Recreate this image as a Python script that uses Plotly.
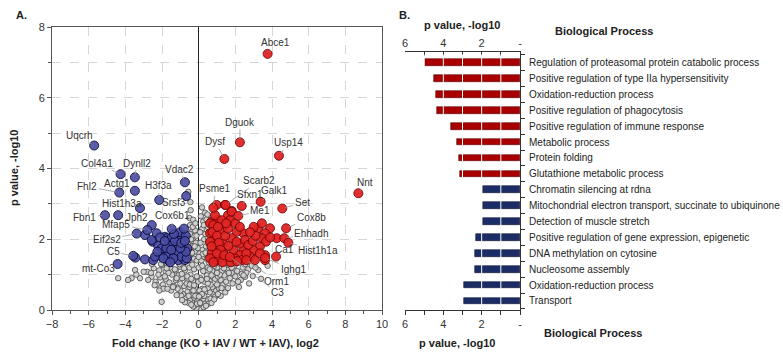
import plotly.graph_objects as go

W, H = 783, 354
FONT = "Liberation Sans, Arial, sans-serif"

# ---------------- Panel A data (volcano) ----------------
grey_x = [0.00, 0.05, -0.05, 0.12, -0.12, 0.20, -0.20, 0.28, -0.30, 0.35, -0.35, 0.10, -0.10, 0.45, -0.45,
          0.55, -0.55, 0.25, -0.25, 0.65, -0.70, 0.40, -0.40, 0.15, -0.15, 0.80, -0.85, 0.95, -1.00, 0.60,
          -0.60, 0.35, -0.35, 1.10, -1.15, 0.75, -0.80, 0.50, -0.50, 0.20, -0.20, 1.30, -1.35, 1.00, -1.00,
          0.05, -1.50, 1.45, 0.90, -0.95, 1.50, -1.60, 1.70, -1.80, 1.20, -1.25, 0.90, -0.90, 0.60, -0.60,
          0.30, -0.30, 2.00, -2.10, 1.85, -1.95, 1.40, -1.45, 0.10, -0.10, 2.30, -2.35, 1.05, -1.10, 0.45,
          -0.45, 2.53, -2.57, -2.29, -1.93, -2.02, 2.20, 2.70, -2.80, 2.40, -2.45, 2.10, -2.15, 1.80, -1.80,
          1.55, -1.55, 1.25, -1.25, 1.00, -1.00, 0.75, -0.75, 0.50, -0.50, 0.25, -0.25, 2.90, -3.00, 1.95,
          -2.00, 1.65, -1.70, 0.00, -3.47, -3.66, -4.39, -3.20, -2.75, 3.40, 3.76, 3.25, 2.95, 3.10,
          -0.57, -0.44, -0.47, -0.38, -0.30, -0.55, -0.40, -0.25, -0.10, -0.50, -0.35, -0.20, -0.55, -0.15,
          -0.50, -0.30, -0.20, -0.45, 0.15, 0.30, 0.45, 0.20, 0.40, 0.55, 0.10, 0.30, 0.50, 0.20, 0.36,
          0.25, 0.43, 0.50, 0.35, 0.05, -0.05, 0.70, -0.75, 0.85, -0.90, 1.20, -1.20, 1.60, -1.70, 0.30,
          -0.30, 0.65, -0.65, 1.15, -1.20, 1.65, -1.65, 2.60, -2.60, 0.85, -0.85, 0.20, -0.35,
          -0.08, 0.08, -0.18, 0.18, -0.28, 0.32, -0.48, 0.50, -0.62, 0.70, -0.92, 1.00, -1.30, 1.38,
          -1.75, 1.80, -2.20, 2.35, -0.02, 0.15, -0.40, 0.60, -0.80, 1.05, -1.40, 1.25, -0.55, 0.45,
          -0.25, 0.02, -2.40, -2.15, -1.85, -3.40, -3.85, 2.15, 2.45, 2.75,
          -0.52, -0.36, -0.22, -0.58, -0.42, -0.12, 0.08, 0.22, 0.38, 0.52, 0.12, 0.28, 0.48, -0.32,
          -0.48, 0.58, 0.55, -0.60, 0.00, -0.18, 0.18, -1.05, 1.12, -1.55, 1.62, -2.05, 2.05, -2.55, 2.55]
grey_y = [0.02, 0.10, 0.12, 0.05, 0.06, 0.15, 0.14, 0.08, 0.10, 0.22, 0.25, 0.25, 0.28, 0.30, 0.30,
          0.18, 0.20, 0.32, 0.35, 0.32, 0.35, 0.12, 0.15, 0.40, 0.42, 0.45, 0.45, 0.55, 0.55, 0.50,
          0.52, 0.50, 0.55, 0.62, 0.60, 0.65, 0.68, 0.62, 0.65, 0.60, 0.62, 0.70, 0.68, 0.72, 0.75,
          0.55, 0.55, 0.50, 0.38, 0.40, 0.80, 0.78, 0.90, 0.88, 0.85, 0.85, 0.88, 0.90, 0.82, 0.85,
          0.80, 0.82, 0.95, 0.92, 0.75, 0.72, 0.98, 1.00, 0.90, 0.95, 0.85, 0.80, 0.95, 0.98, 0.98,
          1.00, 0.94, 0.94, 0.71, 0.60, 0.23, 0.65, 1.15, 1.08, 1.20, 1.18, 1.10, 1.12, 1.05, 1.08,
          1.15, 1.20, 1.10, 1.12, 1.20, 1.22, 1.10, 1.12, 1.20, 1.20, 1.10, 1.15, 1.25, 1.08, 1.25,
          1.27, 1.28, 1.28, 1.20, 1.13, 0.90, 0.90, 0.90, 0.85, 0.88, 1.25, 1.13, 0.96, 1.20,
          3.34, 2.82, 2.40, 2.21, 1.95, 1.40, 1.50, 1.45, 1.40, 1.70, 1.80, 1.65, 2.05, 1.90,
          2.60, 2.55, 2.25, 3.05, 1.40, 1.50, 1.45, 1.70, 1.80, 1.65, 1.90, 2.00, 2.05, 2.30, 2.15,
          2.50, 2.56, 2.35, 2.75, 1.60, 1.75, 0.20, 0.22, 0.30, 0.28, 0.40, 0.42, 0.62, 0.60, 0.40,
          0.42, 0.72, 0.75, 1.00, 0.90, 1.05, 1.05, 1.05, 1.05, 1.25, 1.25, 1.25, 1.28,
          0.18, 0.20, 0.40, 0.45, 0.55, 0.58, 0.72, 0.75, 0.95, 0.98, 1.02, 1.05, 1.15, 1.18,
          1.18, 1.20, 1.00, 1.02, 0.80, 0.85, 0.88, 1.15, 1.18, 0.45, 0.65, 0.62, 0.40, 0.88,
          0.70, 0.38, 0.70, 0.55, 0.95, 1.00, 0.85, 0.80, 0.98, 0.75,
          1.55, 1.62, 1.80, 1.85, 2.00, 2.10, 2.20, 1.58, 1.62, 1.88, 2.65, 2.40, 2.70, 2.35,
          2.15, 2.20, 1.35, 1.60, 1.50, 2.45, 2.90, 1.30, 1.32, 1.30, 1.32, 1.30, 1.32, 1.30, 1.30]

# down-regulated (blue)
down_x = [-4.39, -3.45, -2.93, -2.48, -2.51, -2.93, -2.56, -2.29, -1.84, -1.75, -2.20, -1.60, -1.02,
          -0.84, -1.20, -1.84, -1.38, -0.84, -2.02, -1.66, -1.11, -0.75, -2.38, -1.20, -1.57, -2.02,
          -1.11, -1.66, -0.93, -0.65, -1.38, -1.93, -0.93, -0.62, -1.47, -1.00, -0.70, -1.30, -0.70,
          -1.75, -1.50, -1.00, -0.80, -2.10, -1.35, -1.85, -0.95, -1.55, -2.25, -0.75]
down_y = [2.68, 1.48, 1.43, 1.41, 1.93, 2.12, 1.98, 2.17, 2.07, 2.03, 1.81, 1.87, 2.03,
          1.88, 1.79, 1.69, 1.60, 1.55, 1.51, 1.41, 1.41, 1.41, 1.51, 2.00, 1.81, 1.74,
          1.65, 1.55, 1.51, 1.46, 1.46, 1.46, 2.07, 1.74, 2.05, 2.20, 2.10, 1.95, 1.65,
          1.75, 1.70, 1.75, 2.30, 2.05, 2.15, 1.95, 1.90, 1.35, 1.65, 1.95]
down_genes = ["Uqcrh", "Col4a1", "Dynll2", "Fhl2", "Actg1", "Vdac2", "H3f3a", "Srsf3", "Hist1h3a",
              "Fbn1", "Jph2", "Cox6b1", "Mfap5", "Eif2s2", "C5", "mt-Co3"]
down_gene_x = [-5.70, -4.26, -3.48, -4.33, -3.48, -0.75, -2.15, -0.68, -3.20,
               -5.11, -2.56, -1.47, -2.80, -3.38, -3.57, -4.42]
down_gene_y = [4.65, 3.84, 3.75, 3.32, 3.37, 3.61, 3.11, 3.22, 2.88,
               2.68, 2.40, 2.29, 2.26, 2.16, 1.53, 1.30]

# up-regulated (red)
up_x = [0.98, 0.71, 1.07, 1.60, 1.43, 1.80, 0.62, 3.25, 3.89, 3.62, 3.44, 4.26, 3.67, 3.34, 2.98,
        3.62, 3.62, 2.43, 2.25, 2.43, 2.07, 1.80, 1.34, 1.89, 2.25, 2.80, 3.07, 1.53, 0.98, 0.71,
        0.89, 0.89, 1.25, 0.80, 1.25, 1.71, 1.80, 0.89, 0.62, 0.62, 1.34, 1.62, 2.07, 2.53, 2.71,
        1.98, 1.16, 0.62, 2.35, 3.34, 0.75, 1.00, 1.10, 1.20, 1.45, 1.60, 1.00, 0.80, 1.30, 1.75,
        2.10, 1.50, 2.00, 2.25, 0.70, 1.05, 1.40, 2.60, 2.95, 3.10, 3.00, 2.80, 3.90, 3.45]
up_y = [2.97, 2.50, 2.54, 2.68, 2.97, 2.80, 2.45, 2.31, 2.31, 2.17, 2.03, 2.03, 1.93, 1.79, 1.69,
        1.55, 1.41, 1.69, 1.88, 2.17, 2.21, 2.03, 1.88, 1.69, 1.55, 1.51, 1.41, 1.46, 1.41, 1.60,
        1.79, 2.03, 2.26, 2.40, 2.54, 2.54, 2.78, 2.68, 2.17, 1.93, 1.65, 1.81, 1.93, 1.98, 1.84,
        1.46, 1.46, 1.46, 1.41, 1.60, 2.20, 2.10, 1.90, 1.70, 2.10, 2.30, 1.60, 1.35, 1.35, 1.35,
        1.38, 2.45, 2.45, 2.35, 1.80, 2.35, 1.55, 1.60, 1.95, 2.10, 2.35, 2.20, 2.05, 2.45]
up_genes = ["Abce1", "Dguok", "Dysf", "Usp14", "Nnt", "Set", "Galk1", "Me1", "Sfxn1", "Scarb2",
            "Psme1", "Cox8b", "Ehhadh", "Hist1h1a", "Ca1", "Ighg1", "Orm1", "C3"]
up_gene_x = [3.76, 2.25, 1.40, 4.38, 8.71, 4.56, 3.38, 2.16, 2.35, 1.47,
             0.80, 4.77, 4.67, 4.89, 4.22, 3.62, 2.60, 1.70]
up_gene_y = [7.24, 4.74, 4.27, 4.36, 3.30, 2.87, 3.06, 2.66, 2.94, 2.97,
             2.89, 2.31, 2.03, 1.90, 1.51, 1.47, 1.41, 1.50]

# ---------------- Panel B data (GO terms) ----------------
go_terms_up = ["Regulation of proteasomal protein catabolic process",
               "Positive regulation of type IIa hypersensitivity",
               "Oxidation-reduction process",
               "Positive regulation of phagocytosis",
               "Positive regulation of immune response",
               "Metabolic process",
               "Protein folding",
               "Glutathione metabolic process"]
go_values_up = [4.98, 4.50, 4.37, 4.32, 3.60, 3.30, 3.20, 3.12]
go_terms_down = ["Chromatin silencing at rdna",
                 "Mitochondrial electron transport, succinate to ubiquinone",
                 "Detection of muscle stretch",
                 "Positive regulation of gene expression, epigenetic",
                 "DNA methylation on cytosine",
                 "Nucleosome assembly",
                 "Oxidation-reduction process",
                 "Transport"]
go_values_down = [1.91, 1.91, 1.91, 2.27, 2.33, 2.36, 2.93, 2.93]
pval_ticks = [6, 4, 2, 0]
pval_ticktext = ["6", "4", "2", "-"]

# ---------------- label offsets (pixels, style only) ----------------
label_offsets = {
    "Abce1": (8, -11), "Dguok": (0, -20), "Dysf": (-9, -17), "Usp14": (10, -13), "Nnt": (7, -11),
    "Set": (20, -6), "Galk1": (14, -11), "Me1": (22, -5), "Sfxn1": (8, -12), "Scarb2": (33, -24),
    "Psme1": (2, -19), "Cox8b": (25, -11), "Ehhadh": (27, -5), "Hist1h1a": (30, 8), "Ca1": (8, -7),
    "Ighg1": (28, 11), "Orm1": (30, 21), "C3": (48, 36),
    "Uqcrh": (-15, -10), "Col4a1": (-24, -11), "Dynll2": (2, -14), "Fhl2": (-32, -6), "Actg1": (-18, -7),
    "Vdac2": (-5, -13), "H3f3a": (-1, -14), "Srsf3": (-12, 6), "Hist1h3a": (-18, -5), "Fbn1": (-20, 2),
    "Jph2": (-15, -8), "Cox6b1": (1, -13), "Mfap5": (-31, -6), "Eif2s2": (-30, 6), "C5": (-20, -4),
    "mt-Co3": (-19, 4),
}


def px(x):
    return x / W


def py(y):
    return 1 - y / H


fig = go.Figure()

fig.add_trace(go.Scatter(x=grey_x, y=grey_y, mode="markers", xaxis="x", yaxis="y",
                         marker=dict(size=5.5, color="#d0d0d0", line=dict(color="#444444", width=0.8)),
                         hoverinfo="x+y", showlegend=False))
fig.add_trace(go.Scatter(x=down_x + down_gene_x, y=down_y + down_gene_y, mode="markers",
                         text=[""] * len(down_x) + down_genes, xaxis="x", yaxis="y",
                         marker=dict(size=9, color="#4a4ca2", opacity=0.9,
                                     line=dict(color="#08083a", width=1)),
                         showlegend=False))
fig.add_trace(go.Scatter(x=up_x + up_gene_x, y=up_y + up_gene_y, mode="markers",
                         text=[""] * len(up_x) + up_genes, xaxis="x", yaxis="y",
                         marker=dict(size=9, color="#e02424", opacity=0.95,
                                     line=dict(color="#6e0000", width=0.9)),
                         showlegend=False))

# bars
n_up = len(go_terms_up)
fig.add_trace(go.Bar(x=go_values_up, y=list(range(n_up)), orientation="h", xaxis="x2", yaxis="y2",
                     width=0.42, marker=dict(color="#a80000", line=dict(color="#5a0000", width=0.6)),
                     showlegend=False))
fig.add_trace(go.Bar(x=go_values_down, y=list(range(n_up, n_up + len(go_terms_down))), orientation="h",
                     xaxis="x2", yaxis="y2", width=0.42,
                     marker=dict(color="#1c2c66", line=dict(color="#0c1438", width=0.6)),
                     showlegend=False))
fig.add_trace(go.Scatter(x=[None], y=[None], xaxis="x3", yaxis="y2", showlegend=False))

all_terms = go_terms_up + go_terms_down
n_terms = len(all_terms)

annotations = []
for names, xs, ys in ((up_genes, up_gene_x, up_gene_y), (down_genes, down_gene_x, down_gene_y)):
    for name, x, y in zip(names, xs, ys):
        ax, ay = label_offsets[name]
        annotations.append(dict(x=x, y=y, xref="x", yref="y", text=name, showarrow=True,
                                arrowhead=0, arrowwidth=0.8, arrowcolor="#9a9a9a", ax=ax, ay=ay,
                                standoff=3, font=dict(family=FONT, size=10, color="#333333")))

bold = dict(family=FONT, size=11, color="#222222")


def title(text, x, y, angle=0):
    return dict(x=px(x), y=py(y), xref="paper", yref="paper", text="<b>%s</b>" % text, textangle=angle,
                xanchor="center", yanchor="middle", showarrow=False, font=bold)


annotations += [
    title("A.", 21, 15),
    title("B.", 404, 15),
    title("p value, -log10", 14, 168, -90),
    title("Fold change (KO + IAV / WT + IAV), log2", 215, 343),
    title("p value, -log10", 462, 25),
    title("p value, -log10", 457, 343),
    title("Biological Process", 604, 31),
    title("Biological Process", 593, 333),
]

shapes = [dict(type="line", xref="x2", yref="y2 domain", x0=v, x1=v, y0=0.01, y1=0.99,
               line=dict(color="white", width=1), layer="above") for v in (1, 2, 3, 4, 5)]

tickfont = dict(family=FONT, size=11, color="#333333")
fig.update_layout(
    template="none",
    width=W, height=H, autosize=False, margin=dict(l=0, r=0, t=0, b=0, pad=0),
    paper_bgcolor="white", plot_bgcolor="white", showlegend=False, bargap=0,
    xaxis=dict(domain=[px(52), px(382)], range=[-8, 10], tick0=-8, dtick=2, anchor="y", automargin=False,
               showgrid=True, gridcolor="#d6d6d6", griddash="dash", gridwidth=1,
               zeroline=True, zerolinecolor="#222222", zerolinewidth=1,
               showline=True, linecolor="#555555", linewidth=1, mirror=True,
               ticks="outside", ticklen=4, tickcolor="#555555", tickfont=tickfont,
               minor=dict(dtick=1, ticks="outside", ticklen=3, tickcolor="#555555", showgrid=False)),
    yaxis=dict(domain=[py(310), py(27)], range=[0, 8], tick0=0, dtick=2, anchor="x", automargin=False,
               showgrid=True, gridcolor="#d6d6d6", griddash="dash", zeroline=False,
               showline=True, linecolor="#555555", linewidth=1, mirror=True,
               ticks="outside", ticklen=4, tickcolor="#555555", tickfont=tickfont,
               minor=dict(dtick=1, ticks="outside", ticklen=3, tickcolor="#555555",
                          showgrid=True, gridcolor="#d6d6d6", griddash="dash")),
    xaxis2=dict(domain=[px(405), px(520)], range=[6, 0], anchor="y2", side="top", automargin=False,
                tickvals=pval_ticks, ticktext=pval_ticktext, showgrid=False, zeroline=False,
                showline=True, linecolor="#333333", linewidth=1,
                ticks="inside", ticklen=4, tickcolor="#333333", tickfont=tickfont,
                minor=dict(dtick=1, ticks="inside", ticklen=4, tickcolor="#333333")),
    xaxis3=dict(range=[6, 0], overlaying="x2", anchor="y2", side="bottom", automargin=False,
                tickvals=pval_ticks, ticktext=pval_ticktext, showgrid=False, zeroline=False,
                showline=True, linecolor="#333333", linewidth=1,
                ticks="outside", ticklen=4, tickcolor="#333333", tickfont=tickfont,
                minor=dict(dtick=1, ticks="outside", ticklen=4, tickcolor="#333333")),
    yaxis2=dict(domain=[py(310), py(52)], range=[n_terms - 0.43, -0.67], anchor="x2", side="right",
                automargin=False,
                tickvals=list(range(n_terms)), ticktext=all_terms, showgrid=False, zeroline=False,
                showline=True, linecolor="#333333", linewidth=1, ticks="", ticklabelstandoff=6,
                tickfont=dict(family=FONT, size=10, color="#222222"),
                minor=dict(tickvals=[i - 0.5 for i in range(n_terms + 1)], ticks="outside",
                           ticklen=4, tickcolor="#333333")),
    annotations=annotations, shapes=shapes,
)

# remove the browser's default page margin so the figure fills the window exactly
fig.write_html("out.html", config={"displayModeBar": False},
               post_script="document.body.style.margin='0';")
